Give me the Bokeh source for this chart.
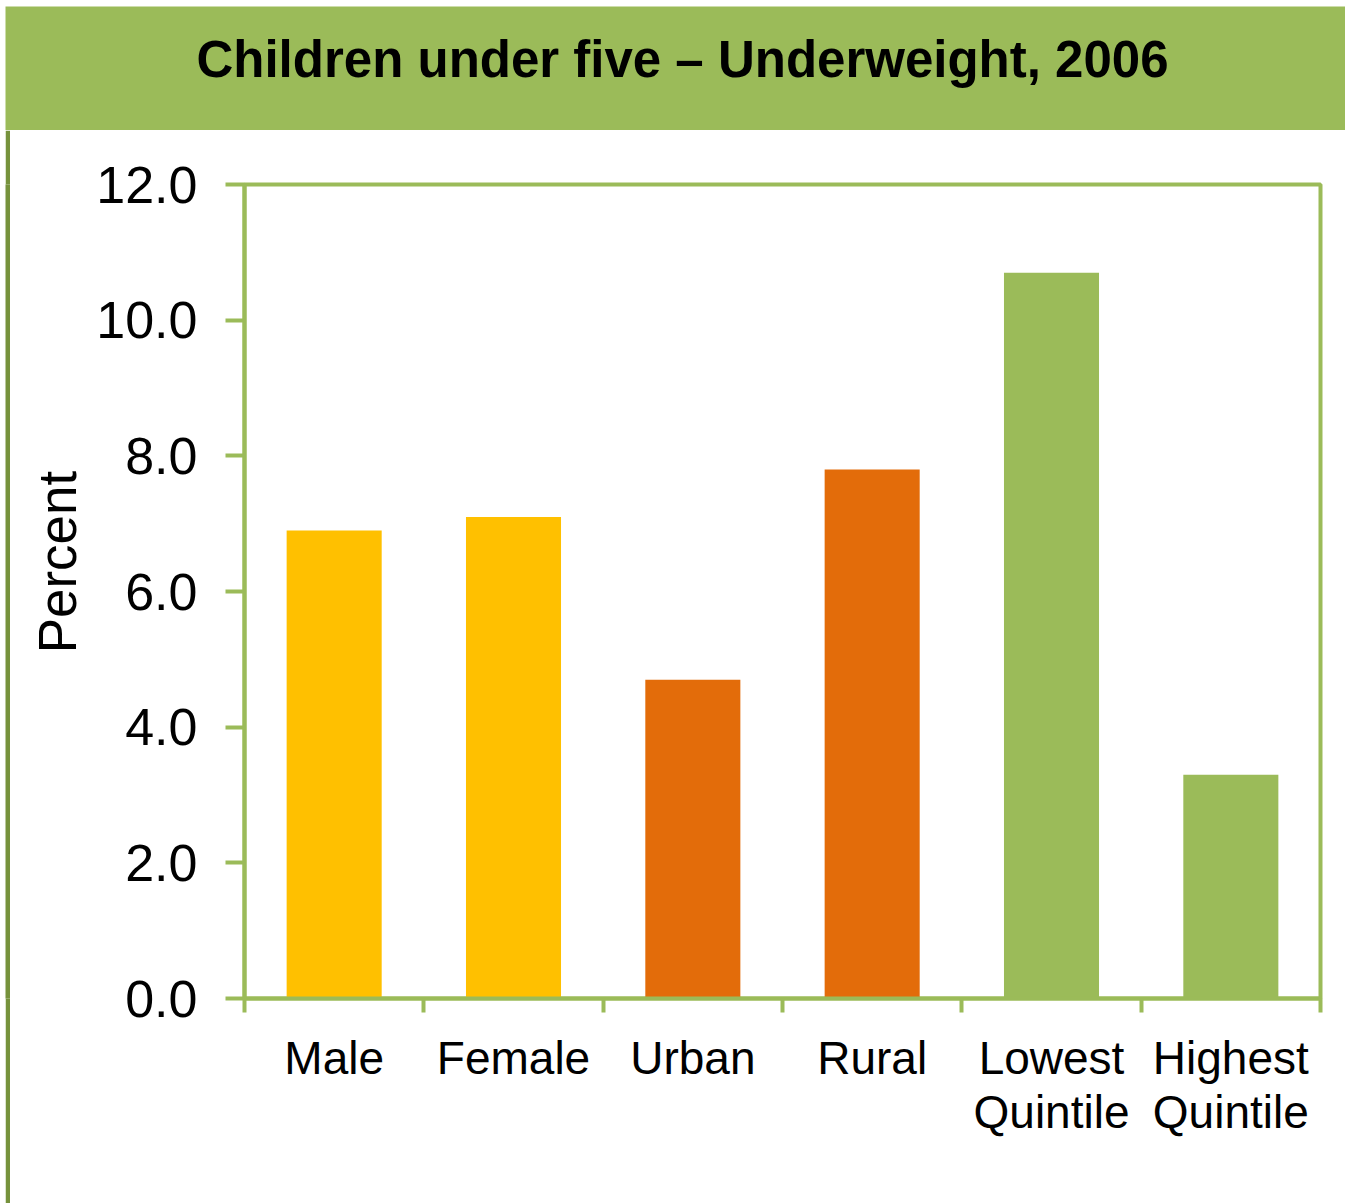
from bokeh.plotting import figure
from bokeh.layouts import column, row
from bokeh.models import Range1d, FixedTicker, Label, ColumnDataSource, PrintfTickFormatter
from bokeh.embed import file_html
from bokeh.resources import INLINE

# ---- data ----
categories = ["Male", "Female", "Urban", "Rural", "Lowest\nQuintile", "Highest\nQuintile"]
values = [6.9, 7.1, 4.7, 7.8, 10.7, 3.3]
bar_colors = ["#FFC000", "#FFC000", "#E36C0A", "#E36C0A", "#9BBB59", "#9BBB59"]
y_ticks = [0, 2, 4, 6, 8, 10, 12]
title_text = "Children under five \u2013 Underweight, 2006"
y_label = "Percent"

GREEN = "#9BBB59"
DARK = "#76923C"
FONT = "Liberation Sans"

# ---- title bar ----
TW, TH = 1340, 124
t = figure(width=TW, height=TH, x_range=Range1d(0, TW), y_range=Range1d(0, TH),
           output_backend="svg", toolbar_location=None, min_border=0,
           x_axis_location=None, y_axis_location=None)
t.grid.visible = False
t.outline_line_color = None
t.background_fill_color = GREEN
t.border_fill_color = GREEN
t.add_layout(Label(x=677, y=71, text=title_text, text_font=FONT, text_font_style="bold",
                   text_font_size="51px", text_align="center", text_baseline="alphabetic",
                   text_color="black"))

# ---- left decorative line ----
lf = figure(width=5, height=1073, x_range=Range1d(0, 1), y_range=Range1d(0, 1),
            output_backend="svg", toolbar_location=None, min_border=0,
            x_axis_location=None, y_axis_location=None)
lf.grid.visible = False
lf.outline_line_color = None
lf.background_fill_color = DARK
lf.border_fill_color = DARK

# ---- main chart ----
n = len(categories)
xs = [i + 0.5 for i in range(n)]
src = ColumnDataSource(dict(x=xs, top=values, color=bar_colors))

p = figure(width=1335, height=1073, x_range=Range1d(0, n), y_range=Range1d(0, 12),
           output_backend="svg", toolbar_location=None,
           min_border_left=234, min_border_right=25, min_border_top=54, min_border_bottom=205)
p.vbar(x="x", top="top", width=0.53, fill_color="color", line_color=None, source=src)

p.grid.visible = False
p.outline_line_color = GREEN
p.outline_line_width = 4
p.background_fill_color = "white"
p.border_fill_color = "white"

xa = p.xaxis[0]
xa.ticker = FixedTicker(ticks=xs, minor_ticks=list(range(n + 1)))
xa.major_label_overrides = {x: c for x, c in zip(xs, categories)}
xa.major_tick_out = 0
xa.major_tick_in = 0
xa.minor_tick_out = 14
xa.minor_tick_in = 0
xa.minor_tick_line_color = GREEN
xa.minor_tick_line_width = 4
xa.axis_line_color = GREEN
xa.axis_line_width = 4
xa.major_label_text_font = FONT
xa.major_label_text_font_size = "46px"
xa.major_label_text_color = "black"
xa.major_label_text_line_height = 1.05
xa.major_label_standoff = 19

ya = p.yaxis[0]
ya.ticker = FixedTicker(ticks=y_ticks, minor_ticks=[])
ya.formatter = PrintfTickFormatter(format="%.1f")
ya.major_tick_out = 19
ya.major_tick_in = 0
ya.minor_tick_out = 0
ya.minor_tick_in = 0
ya.major_tick_line_color = GREEN
ya.major_tick_line_width = 4
ya.axis_line_color = GREEN
ya.axis_line_width = 4
ya.major_label_text_font = FONT
ya.major_label_text_font_size = "52px"
ya.major_label_text_color = "black"
ya.major_label_standoff = 28
ya.axis_label = "\u00a0\u00a0\u00a0\u00a0" + y_label
ya.axis_label_text_font = FONT
ya.axis_label_text_font_size = "53px"
ya.axis_label_text_font_style = "normal"
ya.axis_label_text_color = "black"
ya.axis_label_standoff = 6

layout = column(t, row(lf, p, spacing=0), spacing=0, margin=(6, 0, 0, 5))

open("out.html", "w").write(file_html(layout, INLINE))
